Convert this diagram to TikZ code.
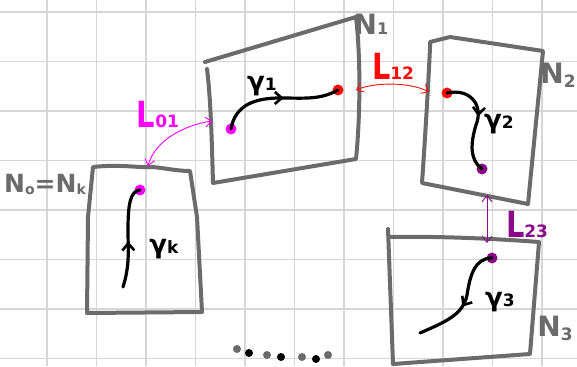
\documentclass[tikz,border=0pt]{standalone}
\usepackage{fontspec}
\setmainfont{DejaVu Sans}
\usetikzlibrary{arrows.meta,decorations.markings}
\definecolor{boxgray}{HTML}{6B6B6B}
\definecolor{gridgray}{HTML}{D6D6D6}
\definecolor{mag}{HTML}{FF00FF}
\definecolor{redx}{HTML}{FF0A0A}
\definecolor{purp}{HTML}{880A88}
\newcommand\bigL{\scalebox{0.8}[1]{\fontsize{36}{36}\selectfont L}}
\begin{document}
\begin{tikzpicture}[x=1pt,y=-1pt,
  frame/.style={draw=boxgray,line width=4pt,line join=round,line cap=round},
  gcurve/.style={draw=black,line width=3.2pt,line cap=round,postaction={decorate},
    decoration={markings,mark=at position #1 with {\arrow{Straight Barb[length=7pt,width=12pt,line width=2.6pt]}}}},
  gcurve/.default=0.5,
  link/.style={draw=#1,line width=0.9pt,{Straight Barb[length=6pt,width=10pt]}-{Straight Barb[length=6pt,width=10pt]}},
  pt/.style={circle,fill=#1,inner sep=0pt,minimum size=11pt},
  sdot/.style={circle,fill=#1,inner sep=0pt,minimum size=8pt},
  nlab/.style={text=boxgray,font=\bfseries,inner sep=0pt},
  glab/.style={text=black,font=\bfseries,inner sep=0pt},
  llab/.style={text=#1,font=\bfseries,inner sep=0pt}
]
\useasboundingbox (0,0) rectangle (577,366);
\fill[white] (0,0) rectangle (577,366);
% grid
\foreach \i in {0,...,10} \draw[gridgray,line width=1.2pt] ({47+49.5*\i},0) -- ({47+49.5*\i},366);
\foreach \j in {0,...,7} \draw[gridgray,line width=1.2pt] (0,{12+49.5*\j}) -- (577,{12+49.5*\j});

% box N1
\draw[frame] (205,62) -- (356,17);
\draw[frame] (207,69) .. controls (211,100) and (212,150) .. (213,183) -- (356,159)
   .. controls (360,120) and (361,60) .. (356,17);
% box N2
\draw[frame] (430,48) -- (430,42) -- (450,37) -- (543,51) -- (528,204) -- (422,183)
   .. controls (425,140) and (428,90) .. (430,48);
% box N0
\draw[frame] (93,167) .. controls (120,164) and (140,168) .. (150,167)
   .. controls (160,167) and (175,171) .. (190,171) -- (197,217) -- (202,312) -- (87,313) -- (88,217) -- cycle;
% box N3
\draw[frame] (388,229) -- (393,364) -- (530,354) -- (539,242) .. controls (500,239) and (440,236) .. (390,237);

% labels of boxes
\node[nlab] (n1) at (371,24) {\fontsize{28}{28}\selectfont N\fontsize{16}{16}\selectfont 1};
\node[nlab] (n2) at (558,75) {\fontsize{28}{28}\selectfont N\raisebox{-4pt}{\fontsize{17}{17}\selectfont 2}};
\node[nlab] (n3) at (555,328) {\fontsize{28}{28}\selectfont N\raisebox{-4pt}{\fontsize{17}{17}\selectfont 3}};
\node[nlab] (n0) at (45,184) {\fontsize{25}{25}\selectfont N\raisebox{-2pt}{\fontsize{14}{14}\selectfont o}=N\raisebox{-2pt}{\fontsize{14}{14}\selectfont k}};

% dots
\node[pt=mag] (d0) at (140,190) {};
\node[pt=mag] (d1s) at (231,129) {};
\node[pt=redx] (d1e) at (338,90) {};
\node[pt=redx] (d2s) at (447,93) {};
\node[pt=purp] (d2e) at (482,169) {};
\node[pt=purp] (d3s) at (492,258) {};
\coordinate (gk0) at (123,287);
\coordinate (g3e) at (420,333);

% gamma curves
\draw[gcurve=0.45] (gk0) .. controls (130,265) and (128,250) .. (128,230) .. controls (128,205) and (130,191) .. (d0.center);
\draw[gcurve=0.55] (d1s.center) .. controls (235,105) and (255,98) .. (280,98) .. controls (305,98) and (320,100) .. (d1e.center);
\draw[gcurve=0.45] (d2s.center) .. controls (470,88) and (484,105) .. (476,125) .. controls (470,145) and (470,160) .. (d2e.center);
\draw[gcurve=0.55] (d3s.center) .. controls (475,258) and (470,275) .. (467,295) .. controls (463,315) and (445,322) .. (g3e);

\node[glab] (lk) at (164,249) {\fontsize{26}{26}\selectfont γ\fontsize{17}{17}\selectfont k};
\node[glab] (l1) at (262,86) {\fontsize{26}{26}\selectfont γ\fontsize{17}{17}\selectfont 1};
\node[glab] (l2) at (499,124) {\fontsize{26}{26}\selectfont γ\fontsize{17}{17}\selectfont 2};
\node[glab] (l3) at (500,302) {\fontsize{26}{26}\selectfont γ\fontsize{17}{17}\selectfont 3};

% links
\coordinate (a0) at (148,166);
\coordinate (a1) at (212,121);
\coordinate (b1) at (356,90);
\coordinate (b2) at (429,92);
\coordinate (c2) at (487,195);
\coordinate (c3) at (487,243);
\draw[link=mag] (a0) .. controls (155,140) and (185,125) .. (a1);
\draw[link=redx] (b1) .. controls (375,82) and (410,82) .. (b2);
\draw[link=purp] (c2) -- (c3);
\node[llab=mag] (t01) at (158,114) {\bigL\fontsize{17}{17}\selectfont 01};
\node[llab=redx] (t12) at (393,66) {\bigL\fontsize{17}{17}\selectfont 12};
\node[llab=purp] (t23) at (527,224) {\bigL\fontsize{17}{17}\selectfont 23};

% ellipsis dots
\node[sdot=boxgray] (e1) at (237,349) {};
\node[sdot=black] (e2) at (249,353) {};
\node[sdot=boxgray] (e3) at (267,355) {};
\node[sdot=black] (e4) at (281,357) {};
\node[sdot=boxgray] (e5) at (302,357) {};
\node[sdot=black] (e6) at (316,359) {};
\node[sdot=boxgray] (e7) at (328,355) {};
\end{tikzpicture}
\end{document}
